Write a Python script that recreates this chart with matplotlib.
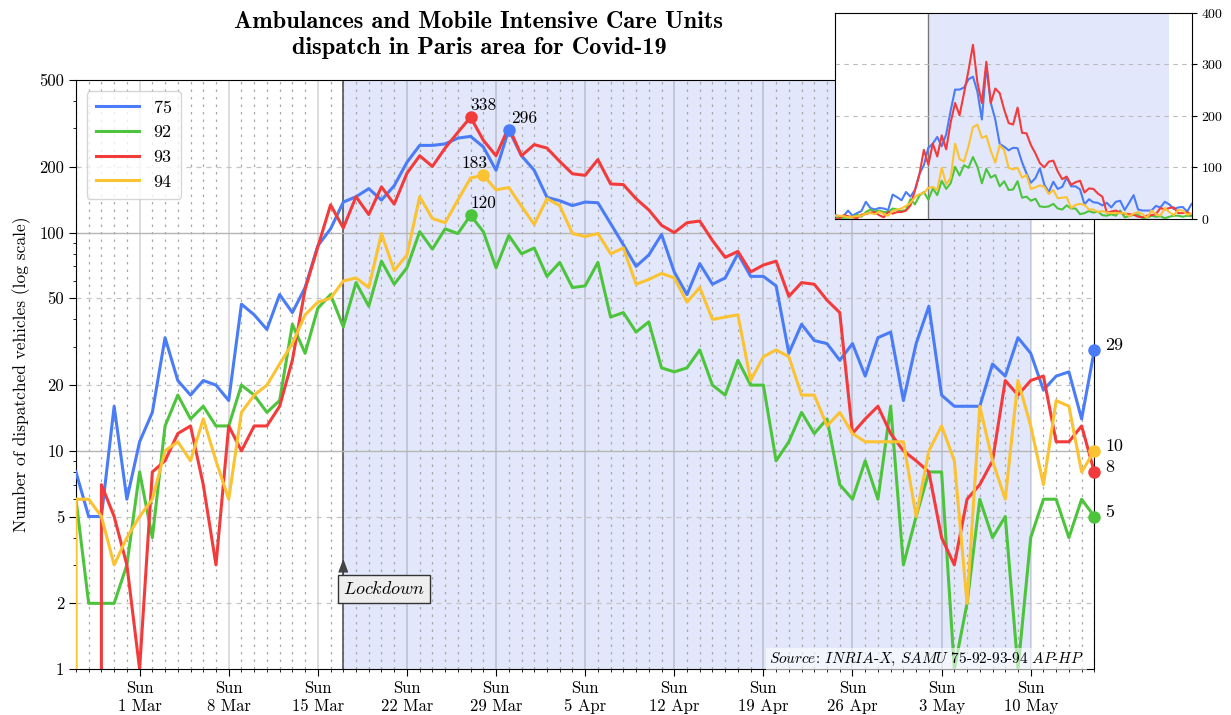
import numpy as np
import pandas as pd
import matplotlib
matplotlib.use("Agg")
import matplotlib.pyplot as plt
import matplotlib.dates as mdates
from matplotlib.ticker import FixedLocator, FuncFormatter, LogLocator, NullFormatter

plt.rcParams['font.family'] = 'cmr10'
plt.rcParams['mathtext.fontset'] = 'cm'
plt.rcParams['axes.formatter.use_mathtext'] = True

# daily dispatches, 24 Feb -> 15 May 2020 (first day only there for the 94 series)
dates = pd.date_range('2020-02-24', '2020-05-15')
nan = np.nan
d75 = [nan, 8, 5, 5, 16, 6, 11, 15, 33, 21, 18, 21, 20, 17, 47, 42, 36, 52, 43, 56, 87,
       104, 138, 146, 159, 141, 164, 210, 251, 251, 255, 271, 276, 247, 193, 296, 225,
       193, 145, 140, 133, 138, 137, 110, 88, 70, 79, 98, 66, 52, 72, 58, 62, 80, 63, 63,
       57, 28, 38, 32, 31, 26, 31, 22, 33, 35, 17, 31, 46, 18, 16, 16, 16, 25, 22, 33,
       28, 19, 22, 23, 14, 29]
d92 = [nan, 6, 2, 2, 2, 3, 8, 4, 13, 18, 14, 16, 13, 13, 20, 18, 15, 17, 38, 28, 45,
       52, 37, 59, 46, 74, 58, 69, 101, 84, 104, 99, 120, 101, 69, 97, 80, 85, 63, 73,
       56, 57, 73, 41, 43, 35, 39, 24, 23, 24, 29, 20, 18, 26, 20, 20, 9, 11, 15, 12, 14,
       7, 6, 9, 6, 16, 3, 5, 8, 8, 1, 2, 6, 4, 5, 1, 4, 6, 6, 4, 6, 5]
d93 = [nan, 0, 0, 7, 5, 3, 1, 8, 9, 12, 13, 7, 3, 13, 10, 13, 13, 16, 26, 55, 86,
       134, 105, 146, 121, 162, 135, 187, 225, 201, 244, 288, 338, 265, 225, 305, 225,
       253, 244, 212, 186, 183, 216, 167, 166, 143, 127, 108, 100, 111, 113, 92, 77, 82,
       66, 71, 74, 51, 59, 58, 49, 43, 12, 14, 16, 12, 10, 9, 8, 4, 3, 6, 7, 9, 21, 18,
       21, 22, 11, 11, 13, 8]
d94 = [0, 6, 6, 5, 3, 4, 5, 6, 10, 11, 9, 14, 9, 6, 15, 18, 20, 25, 31, 42, 48,
       50, 60, 62, 56, 99, 67, 79, 146, 116, 111, 141, 178, 183, 157, 161, 132, 109, 143,
       133, 99, 96, 99, 80, 85, 58, 61, 65, 62, 48, 56, 40, 41, 42, 21, 27, 29, 27, 18,
       18, 13, 15, 12, 11, 11, 11, 11, 5, 10, 13, 9, 2, 16, 9, 6, 21, 13, 7, 17, 16, 8, 10]

labels = ['75', '92', '93', '94']
colors = ['#4a7cf7', '#4cc43c', '#f43b3b', '#fbc231']
series = [d75, d92, d93, d94]

lock_start = pd.Timestamp('2020-03-17')
lock_end = pd.Timestamp('2020-05-10')
x0, x1 = pd.Timestamp('2020-02-25'), pd.Timestamp('2020-05-15')
shade = '#e2e7fb'

fig = plt.figure(figsize=(12.31, 7.15), dpi=100)
ax = fig.add_axes([0.0617, 0.0643, 0.8273, 0.8237])

ax.axvspan(lock_start, lock_end, color=shade, zorder=0, lw=0)
ax.axvline(lock_start, color='#555555', lw=1.2, zorder=1)

for vals, lab, col in zip(series, labels, colors):
    ax.plot(dates, vals, color=col, lw=2.2, label=lab, zorder=3)

ax.set_yscale('log')
ax.set_ylim(1, 500)
ax.set_xlim(x0, x1)

yt = [1, 2, 5, 10, 20, 50, 100, 200, 500]
ax.yaxis.set_major_locator(FixedLocator(yt))
ax.yaxis.set_major_formatter(FuncFormatter(lambda v, p: '%d' % v))
ax.yaxis.set_minor_locator(LogLocator(subs=np.arange(2, 10)))
ax.yaxis.set_minor_formatter(NullFormatter())
for v in [10, 100]:
    ax.axhline(v, color='#b5b5b5', lw=1.0, zorder=1)
for v in [2, 5, 20, 50, 200]:
    ax.axhline(v, color='#c4c4c4', lw=0.9, ls=(0, (4, 4)), zorder=1)

ax.xaxis.set_major_locator(mdates.WeekdayLocator(byweekday=mdates.SU))
ax.xaxis.set_minor_locator(mdates.DayLocator())
ax.xaxis.set_major_formatter(FuncFormatter(
    lambda v, p: 'Sun\n%d %s' % (mdates.num2date(v).day, mdates.num2date(v).strftime('%b'))))
ax.grid(which='major', axis='x', color='black', alpha=0.15, lw=1.3, zorder=1)
ax.grid(which='minor', axis='x', color='#a8a8a8', lw=0.9, ls=(0, (2, 4)), zorder=1)
ax.set_axisbelow(True)

ax.tick_params(which='major', labelsize=12, length=5)
ax.tick_params(which='minor', length=2.5)
ax.set_ylabel('Number of dispatched vehicles (log scale)', fontsize=12.5, labelpad=6)

leg = ax.legend(loc='upper left', fontsize=13, handlelength=2.4,
                borderaxespad=0.6, borderpad=0.5)

# peaks
offs = {'75': (2, 3), '92': (0, 3), '93': (0, 3), '94': (-6, 3)}
has = {'75': 'left', '92': 'left', '93': 'left', '94': 'center'}
for vals, lab, col in zip(series, labels, colors):
    k = int(np.nanargmax(np.array(vals, dtype=float)))
    ax.plot(dates[k], vals[k], 'o', color=col, ms=8, zorder=4)
    ax.annotate('%d' % vals[k], (dates[k], vals[k]), xytext=offs[lab],
                textcoords='offset points', ha=has[lab], va='bottom', fontsize=12.5)
    # last value
    ax.plot(dates[-1], vals[-1], 'o', color=col, ms=8, zorder=4, clip_on=False)
    ax.annotate('%d' % vals[-1], (dates[-1], vals[-1]), xytext=(8, 3),
                textcoords='offset points', ha='left', va='center', fontsize=13,
                annotation_clip=False)

# lockdown marker
ax.text(lock_start, 2.33, r'$\mathit{Lockdown}$', ha='left', va='center', fontsize=13,
        bbox=dict(boxstyle='square,pad=0.3', fc='#eeeeee', ec='#333333', lw=1), zorder=5)
ax.annotate('', xy=(lock_start, 3.2), xytext=(lock_start, 2.7),
            arrowprops=dict(arrowstyle='-|>,head_length=0.8,head_width=0.3',
                            color='#444444', lw=1, shrinkA=0, shrinkB=0), zorder=5)

src_tex = (r'$\mathit{Source}$: $\mathit{INRIA}$-$\mathit{X}$, '
           r'$\mathit{SAMU\ 75}$-$\mathit{92}$-$\mathit{93}$-$\mathit{94\ AP}$-$\mathit{HP}$')
ax.text(0.99, 0.017, src_tex, transform=ax.transAxes, ha='right', va='center',
        fontsize=11, bbox=dict(fc='white', alpha=0.6, ec='none', pad=2), zorder=5)

fig.text(0.389, 0.951, 'Ambulances and Mobile Intensive Care Units\ndispatch in Paris area for Covid-19',
         ha='center', va='center', family='cmb10', fontsize=17.5, linespacing=1.2)

# inset, linear scale
ax2 = fig.add_axes([0.678, 0.694, 0.290, 0.288])
ax2.axvspan(lock_start, lock_end, color=shade, zorder=0, lw=0)
ax2.axvline(lock_start, color='#777777', lw=1.0, zorder=1)
for vals, col in zip(series, colors):
    ax2.plot(dates, vals, color=col, lw=1.5, zorder=3)
ax2.set_xlim(x0, x1)
ax2.set_ylim(0, 400)
ax2.set_xticks([])
ax2.yaxis.tick_right()
ax2.set_yticks([0, 100, 200, 300, 400])
ax2.tick_params(labelsize=10)
for v in [100, 200, 300]:
    ax2.axhline(v, color='#bbbbbb', lw=0.8, ls=(0, (4, 4)), zorder=1)

fig.savefig('out.png', dpi=100)
